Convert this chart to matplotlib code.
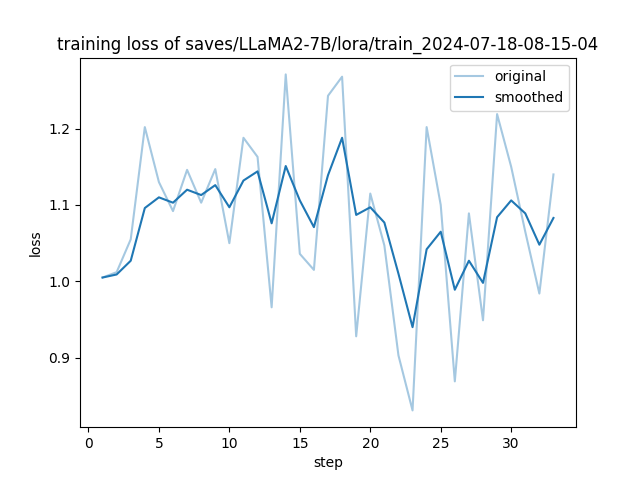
import matplotlib
matplotlib.use("Agg")
import matplotlib.pyplot as plt

steps = list(range(1, 34))
original = [1.005, 1.012, 1.055, 1.202, 1.130, 1.092, 1.146, 1.103, 1.147, 1.050,
            1.188, 1.163, 0.966, 1.271, 1.036, 1.015, 1.243, 1.268, 0.928, 1.115,
            1.047, 0.903, 0.831, 1.202, 1.100, 0.869, 1.089, 0.949, 1.219, 1.150,
            1.065, 0.984, 1.140]
smoothed = [1.005, 1.009, 1.027, 1.096, 1.110, 1.103, 1.120, 1.113, 1.126, 1.097,
            1.132, 1.144, 1.076, 1.151, 1.106, 1.071, 1.139, 1.188, 1.087, 1.097,
            1.077, 1.010, 0.940, 1.042, 1.065, 0.989, 1.027, 0.998, 1.084, 1.106,
            1.089, 1.048, 1.083]

plt.figure(figsize=(6.4, 4.8), dpi=100)
plt.plot(steps, original, color="#1f77b4", alpha=0.4, label="original")
plt.plot(steps, smoothed, color="#1f77b4", label="smoothed")
plt.title("training loss of saves/LLaMA2-7B/lora/train_2024-07-18-08-15-04")
plt.xlabel("step")
plt.ylabel("loss")
plt.legend()
plt.savefig("out.png", dpi=100)
